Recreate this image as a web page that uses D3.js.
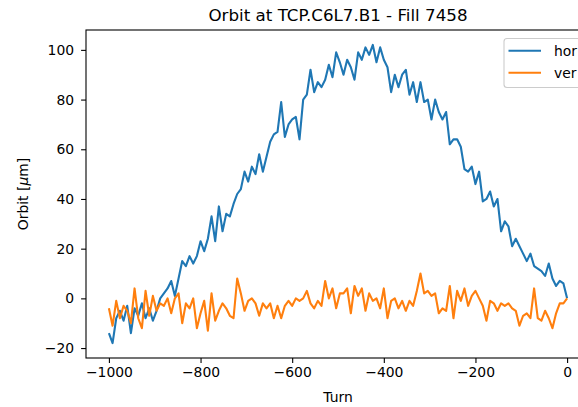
<!DOCTYPE html>
<html>
<head>
<meta charset="utf-8">
<script src="https://d3js.org/d3.v7.min.js"></script>
<style>
    body { margin: 0; background: #fff; }
    text { font-family: 'DejaVu Sans', sans-serif; }
</style>
</head>
<body>
<script>
var svgWidth = 578;
var svgHeight = 407;

// turns: -1000 .. 0, one sample every 8 turns
var turnStart = -1000;
var turnStep = 8;

var hor = [
    -14, -18, -8, -5, -9, -3, -14, -4, -7, -2,
    -8, -4, -9, -5, 0, 2, 4, 7, 1, 8,
    15, 13, 17, 14, 17, 23, 19, 24, 33, 23,
    37, 27, 34, 33, 38, 42, 44, 51, 47, 53,
    50, 58, 51, 57, 63, 66, 67, 79, 65, 70,
    72, 73, 64, 80, 82, 92, 83, 87, 85, 88,
    94, 89, 99, 95, 90, 96, 93, 88, 99, 96,
    101, 98, 102, 95, 101, 96, 93, 83, 90, 85,
    90, 92, 82, 87, 79, 87, 79, 80, 72, 80,
    75, 72, 75, 62, 64, 64, 61, 52, 51, 53,
    46, 51, 39, 40, 43, 37, 40, 27, 31, 29,
    21, 24, 21, 18, 15, 18, 13, 12, 11, 9,
    14, 8, 5, 7, 6, 0
];

var ver = [
    -4, -11, -1, -8, -3, -5, -10, 4, -8, -12,
    3, -7, 1, -5, -2, -3, 0, -6, 0, 2,
    -10, -2, -4, 0, -12, -6, -1, -13, 2, -9,
    -5, -2, -4, -7, -8, 8, 2, -5, -1, 0,
    -2, -7, -2, -4, -2, -8, -3, -8, -3, -1,
    -3, 0, -1, 0, 3, -2, -4, -1, -3, 7,
    0, 4, -4, 2, 2, 4, -6, 5, 1, 4,
    -5, 2, -1, 0, -4, 4, -8, -1, 0, -4,
    -1, -5, -1, -3, 3, 10, 2, 3, 1, 2,
    -6, -4, -5, 5, -8, 3, -1, 4, -3, 1,
    3, 0, -3, -9, -1, -2, -5, -2, -3, -2,
    -4, -5, -11, -7, -6, -8, 4, -8, -9, -5,
    -8, -12, -6, -2, -2, 0
];

var seriesNames = ['hor', 'ver'];
var seriesColors = ['#1f77b4', '#ff7f0e'];
var xTicks = [-1000, -800, -600, -400, -200, 0];
var yTicks = [-20, 0, 20, 40, 60, 80, 100];

var margin = {left: 86, top: 30, right: 590, bottom: 358};

var svg = d3.select('body')
    .append('svg')
    .attr('width', svgWidth)
    .attr('height', svgHeight);

var x_scale = d3.scaleLinear()
    .domain([-1050, 50])
    .range([margin.left, margin.right]);

var y_scale = d3.scaleLinear()
    .domain([-24, 108])
    .range([margin.bottom, margin.top]);

svg.append('clipPath')
    .attr('id', 'plotClip')
    .append('rect')
    .attr('x', margin.left)
    .attr('y', margin.top)
    .attr('width', margin.right - margin.left)
    .attr('height', margin.bottom - margin.top);

var line = d3.line()
    .x(function (d, i) { return x_scale(turnStart + i * turnStep); })
    .y(function (d) { return y_scale(d); });

var plot = svg.append('g')
    .attr('clip-path', 'url(#plotClip)');

[hor, ver].forEach(function (s, k) {
    plot.append('path')
        .datum(s)
        .attr('d', line)
        .attr('fill', 'none')
        .attr('stroke', seriesColors[k])
        .attr('stroke-width', 2.1)
        .attr('stroke-linejoin', 'round');
});

// axes (d3.format uses the unicode minus like matplotlib)
var fmt = d3.format('d');

var xAxis = svg.append('g')
    .attr('transform', 'translate(0,' + margin.bottom + ')')
    .call(d3.axisBottom(x_scale).tickValues(xTicks).tickFormat(fmt)
        .tickSize(4.9).tickPadding(4.5).tickSizeOuter(0));

var yAxis = svg.append('g')
    .attr('transform', 'translate(' + margin.left + ',0)')
    .call(d3.axisLeft(y_scale).tickValues(yTicks).tickFormat(fmt)
        .tickSize(4.9).tickPadding(7).tickSizeOuter(0));

[xAxis, yAxis].forEach(function (a) {
    a.select('.domain').remove();
    a.selectAll('line').attr('stroke', '#000').attr('stroke-width', 1.1);
    a.selectAll('text')
        .attr('fill', '#000')
        .style('font-size', '13.9px')
        .style('font-family', "'DejaVu Sans', sans-serif");
});

// spines
svg.append('rect')
    .attr('x', margin.left)
    .attr('y', margin.top)
    .attr('width', margin.right - margin.left)
    .attr('height', margin.bottom - margin.top)
    .attr('fill', 'none')
    .attr('stroke', '#000')
    .attr('stroke-width', 1.1);

// title and labels
svg.append('text')
    .attr('x', (margin.left + margin.right) / 2)
    .attr('y', 21)
    .attr('text-anchor', 'middle')
    .style('font-size', '16.7px')
    .text('Orbit at TCP.C6L7.B1 - Fill 7458');

svg.append('text')
    .attr('x', (margin.left + margin.right) / 2)
    .attr('y', 402)
    .attr('text-anchor', 'middle')
    .style('font-size', '13.9px')
    .text('Turn');

var ylab = svg.append('text')
    .attr('transform', 'translate(28,' + (margin.top + margin.bottom) / 2 + ') rotate(-90)')
    .attr('text-anchor', 'middle')
    .style('font-size', '13.9px');
ylab.append('tspan').text('Orbit [');
ylab.append('tspan').attr('font-style', 'italic').text('μ');
ylab.append('tspan').text('m]');

// legend
var legend = svg.append('g');

legend.append('rect')
    .attr('x', 504)
    .attr('y', 38.5)
    .attr('width', 110)
    .attr('height', 49)
    .attr('rx', 3)
    .attr('fill', 'white')
    .attr('fill-opacity', 0.8)
    .attr('stroke', '#cccccc')
    .attr('stroke-width', 1.1);

legend.selectAll('line')
    .data(seriesNames)
    .enter()
    .append('line')
    .attr('x1', 508.5)
    .attr('x2', 541)
    .attr('y1', function (d, i) { return 50.7 + i * 22; })
    .attr('y2', function (d, i) { return 50.7 + i * 22; })
    .attr('stroke', function (d, i) { return seriesColors[i]; })
    .attr('stroke-width', 2.1);

legend.selectAll('text')
    .data(seriesNames)
    .enter()
    .append('text')
    .attr('x', 554)
    .attr('y', function (d, i) { return 50.7 + i * 22; })
    .attr('dy', '0.35em')
    .style('font-size', '13.9px')
    .text(function (d) { return d; });
</script>
</body>
</html>
